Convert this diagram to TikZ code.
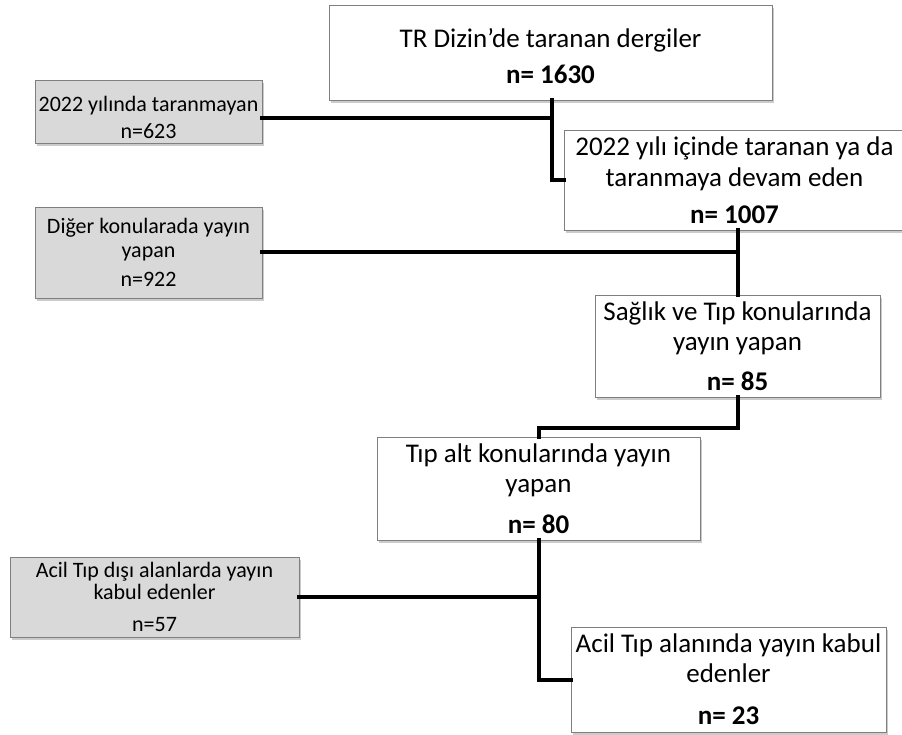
\documentclass[tikz,border=0pt]{standalone}
\usepackage{fontspec}
\setmainfont{Carlito}
\usetikzlibrary{shadows,calc}
\definecolor{grayfill}{HTML}{D9D9D9}
\definecolor{edge}{HTML}{7F7F7F}
\begin{document}
\begin{tikzpicture}[x=1pt,y=-1pt,
  box/.style={draw=edge, line width=0.8pt, fill=white, align=center, inner sep=0pt,
    font=\fontsize{27}{30}\selectfont,
    drop shadow={shadow xshift=2pt, shadow yshift=-3pt, fill=black!40, opacity=0.5}},
  graybox/.style={box, fill=grayfill, font=\fontsize{22}{24}\selectfont},
  conn/.style={line width=4pt, line cap=rect}]
\useasboundingbox (0,0) rectangle (902,735);
\fill[white] (0,0) rectangle (902,735);

\node[box, minimum width=443pt, minimum height=95pt] (b1) at (550.5,52.5)
  {\rule{0pt}{26pt}TR Dizin'de taranan dergiler\\[6pt]\textbf{n= 1630}};
\node[graybox, minimum width=227pt, minimum height=63pt] (g1) at (148.5,111.5)
  {\rule{0pt}{27pt}2022 yılında taranmayan\\[3pt]n=623};
\node[box, minimum width=341pt, minimum height=100pt] (b2) at (734.5,180)
  {2022 yılı içinde taranan ya da\\[1pt]taranmaya devam eden\\[7pt]\textbf{n= 1007}};
\node[graybox, minimum width=227pt, minimum height=91pt] (g2) at (148.5,252.5)
  {Diğer konularada yayın\\yapan\\[5pt]n=922};
\node[box, minimum width=285pt, minimum height=102pt] (b3) at (737.5,346)
  {Sağlık ve Tıp konularında\\yayın yapan\\[10pt]\textbf{n= 85}};
\node[box, minimum width=323pt, minimum height=103pt] (b4) at (538.5,488.5)
  {Tıp alt konularında yayın\\yapan\\[11pt]\textbf{n= 80}};
\node[graybox, minimum width=289pt, minimum height=80pt] (g3) at (154.5,597)
  {Acil Tıp dışı alanlarda yayın\\[-2pt]kabul edenler\\[8pt]n=57};
\node[box, minimum width=315pt, minimum height=105pt] (b5) at (728.5,679.5)
  {Acil Tıp alanında yayın kabul\\[0pt]edenler\\[12pt]\textbf{n= 23}};

\coordinate (j1) at (552,118);
\coordinate (j3) at (0,428);

\draw[conn] (g1.east |- j1) -- (j1);
\draw[conn] (b1.south -| j1) -- (j1 |- b2.west) -- (b2.west);
\draw[conn] (g2.east) -- (g2.east -| b3.north);
\draw[conn] (b3.north |- b2.south) -- (b3.north);
\draw[conn] (b3.south) -- (b3.south |- j3) -- (b4.north |- j3) -- (b4.north);
\draw[conn] (g3.east) -- (g3.east -| b4.south);
\draw[conn] (b4.south) -- (b4.south |- b5.west) -- (b5.west);
\end{tikzpicture}
\end{document}
